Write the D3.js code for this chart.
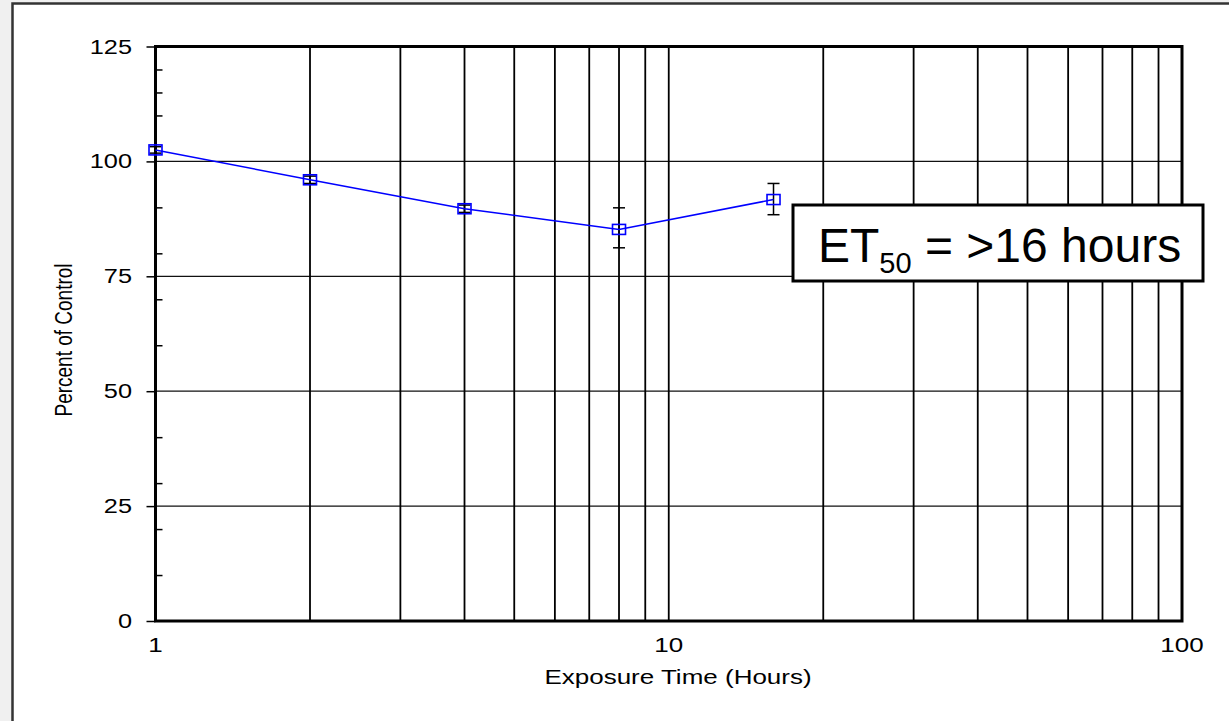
<!DOCTYPE html>
<html>
<head>
<meta charset="utf-8">
<script src="https://cdn.jsdelivr.net/npm/d3@7"></script>
<style>
    body { margin: 0; background: #f0f0f0; }
    svg { display: block; }
    text { font-family: "Liberation Sans", Arial, sans-serif; fill: #000; }
</style>
</head>
<body>
<svg id="chart" width="1229" height="721"></svg>
<script>
// exposure time (hours) and percent of control
const hours = [1, 2, 4, 8, 16]
const percent = [102.5, 96.0, 89.7, 85.2, 91.7]
const errLow = [101.8, 95.2, 88.9, 81.2, 88.4]
const errHigh = [103.2, 96.8, 90.5, 89.9, 95.2]

const yMajorTicks = [0, 25, 50, 75, 100, 125]
const yMinorTicks = [10, 20, 30, 40, 60, 70, 80, 90, 110, 115, 120]
const xGridValues = [2, 3, 4, 5, 6, 7, 8, 9, 10, 20, 30, 40, 50, 60, 70, 80, 90]
const xTickLabels = [1, 10, 100]

const annotation = { main: "ET", sub: "50", rest: " = >16 hours" }

const svg = d3.select("#chart")

// the picture is stretched a bit horizontally
const stretch = 1.3

// white panel with frame
svg.append("rect")
    .attr("x", 12.5).attr("y", 3.5)
    .attr("width", 1240).attr("height", 740)
    .attr("fill", "#fff")
    .attr("stroke", "#333")
    .attr("stroke-width", 2.5)

const margin = { top: 46.5, right: 47, bottom: 100, left: 155.5 }
const x0 = margin.left, x1 = 1229 - margin.right
const y0 = margin.top, y1 = 721 - margin.bottom

const xScale = d3.scaleLog().domain([1, 100]).range([x0, x1])
const yScale = d3.scaleLinear().domain([0, 125]).range([y1, y0])

// horizontal grid
svg.append("g")
    .selectAll("line")
    .data(yMajorTicks.filter(d => d > 0 && d < 125))
    .join("line")
    .attr("x1", x0).attr("x2", x1)
    .attr("y1", d => yScale(d)).attr("y2", d => yScale(d))
    .attr("stroke", "#111")
    .attr("stroke-width", 1.2)

// vertical grid
svg.append("g")
    .selectAll("line")
    .data(xGridValues)
    .join("line")
    .attr("x1", d => xScale(d)).attr("x2", d => xScale(d))
    .attr("y1", y0).attr("y2", y1)
    .attr("stroke", "#000")
    .attr("stroke-width", 1.8)

// plot frame
svg.append("rect")
    .attr("x", x0).attr("y", y0)
    .attr("width", x1 - x0).attr("height", y1 - y0)
    .attr("fill", "none")
    .attr("stroke", "#000")
    .attr("stroke-width", 3)

// y axis: major ticks outside, minor ticks inside
const yAxis = svg.append("g")
    .attr("transform", `translate(${x0},0)`)
    .call(d3.axisLeft(yScale).tickValues(yMajorTicks).tickSize(9).tickPadding(0).tickFormat(""))
yAxis.select(".domain").remove()
yAxis.selectAll(".tick line").attr("stroke", "#000").attr("stroke-width", 1.5)

const yMinor = svg.append("g")
    .attr("transform", `translate(${x0},0)`)
    .call(d3.axisRight(yScale).tickValues(yMinorTicks).tickSize(7).tickFormat(""))
yMinor.select(".domain").remove()
yMinor.selectAll(".tick line").attr("stroke", "#000").attr("stroke-width", 1.5)

// y tick labels
svg.append("g")
    .selectAll("text")
    .data(yMajorTicks)
    .join("text")
    .attr("transform", d => `translate(132,${yScale(d) + 7}) scale(${stretch},1)`)
    .attr("text-anchor", "end")
    .attr("font-size", 19.5)
    .text(d => d)

// x tick labels
svg.append("g")
    .selectAll("text")
    .data(xTickLabels)
    .join("text")
    .attr("transform", d => `translate(${xScale(d)},652) scale(${stretch},1)`)
    .attr("text-anchor", "middle")
    .attr("font-size", 20)
    .text(d => d)

// axis titles
svg.append("text")
    .attr("transform", `translate(678,684) scale(${stretch},1)`)
    .attr("text-anchor", "middle")
    .attr("font-size", 20)
    .text("Exposure Time (Hours)")

svg.append("text")
    .attr("transform", `translate(72,340) scale(${stretch},1) rotate(-90)`)
    .attr("text-anchor", "middle")
    .attr("font-size", 19)
    .text("Percent of Control")

// data
const points = hours.map((h, i) => ({ h, v: percent[i], lo: errLow[i], hi: errHigh[i] }))

const bars = svg.append("g")
    .selectAll("g")
    .data(points)
    .join("g")
    .attr("stroke", "#000")
    .attr("stroke-width", 1.5)
bars.append("line")
    .attr("x1", d => xScale(d.h)).attr("x2", d => xScale(d.h))
    .attr("y1", d => yScale(d.lo)).attr("y2", d => yScale(d.hi))
bars.append("line")
    .attr("x1", d => xScale(d.h) - 6).attr("x2", d => xScale(d.h) + 6)
    .attr("y1", d => yScale(d.lo)).attr("y2", d => yScale(d.lo))
bars.append("line")
    .attr("x1", d => xScale(d.h) - 6).attr("x2", d => xScale(d.h) + 6)
    .attr("y1", d => yScale(d.hi)).attr("y2", d => yScale(d.hi))

const line = d3.line()
    .x(d => xScale(d.h))
    .y(d => yScale(d.v))

svg.append("path")
    .datum(points)
    .attr("d", line)
    .attr("fill", "none")
    .attr("stroke", "#0000ff")
    .attr("stroke-width", 1.5)

svg.append("g")
    .selectAll("rect")
    .data(points)
    .join("rect")
    .attr("x", d => xScale(d.h) - 6.5)
    .attr("y", d => yScale(d.v) - 5)
    .attr("width", 13)
    .attr("height", 10)
    .attr("fill", "none")
    .attr("stroke", "#0000ff")
    .attr("stroke-width", 1.6)

// ET50 annotation box
svg.append("rect")
    .attr("x", 793).attr("y", 205)
    .attr("width", 410).attr("height", 76)
    .attr("fill", "#fff")
    .attr("stroke", "#000")
    .attr("stroke-width", 3)

const label = svg.append("text")
    .attr("x", 818).attr("y", 261.5)
    .attr("font-size", 48)
label.append("tspan").text(annotation.main)
label.append("tspan").attr("font-size", 29).attr("dy", 11).text(annotation.sub)
label.append("tspan").attr("dy", -11).text(annotation.rest)
</script>
</body>
</html>
